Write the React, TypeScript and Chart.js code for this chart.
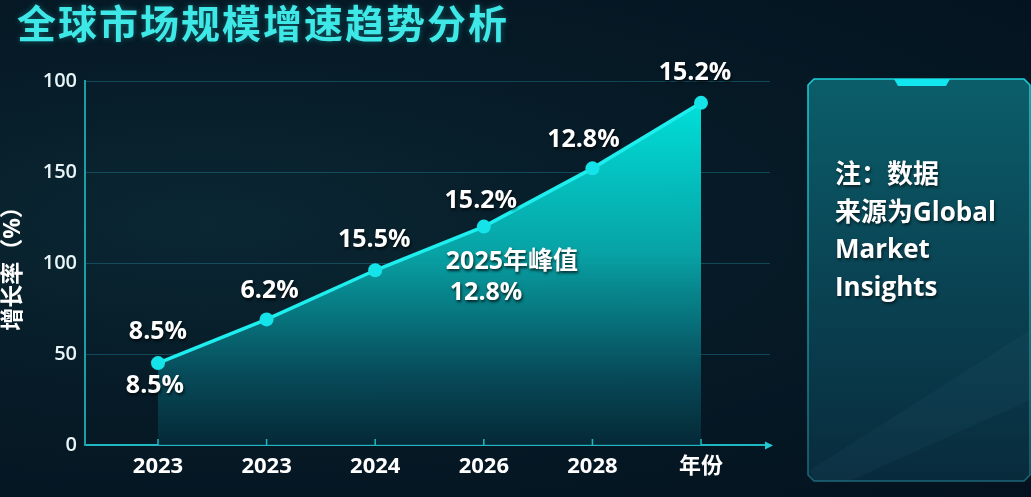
import React, { useEffect, useRef } from "react";
import { Chart, registerables } from "chart.js";

Chart.register(...registerables);

const categories = ["2023", "2023", "2024", "2026", "2028", "年份"];
const growthValues = [45, 69, 96, 120, 152, 188];
const pointLabels = ["8.5%", "6.2%", "15.5%", "15.2%", "12.8%", "15.2%"];
const belowLabels = ["8.5%", "", "", "", "", ""];
const peakNoteIndex = 3;
const peakNote = ["2025年峰值", "12.8%"];
const yTickValues = [0, 50, 100, 150, 200];
const yTickLabels = ["0", "50", "100", "150", "100"];
const titleText = "全球市场规模增速趋势分析";
const yAxisTitle = "增长率（%）";
const noteLines = ["注：数据", "来源为Global", "Market", "Insights"];

const W = 1031;
const H = 497;
const FONT = "'Open Sans', 'Noto Sans CJK SC', sans-serif";
const labelDx = [0, 3, -1, -3, -9, -6];
const labelDy = [-31, -29, -30, -26, -28, -30];

const decorPlugin = {
  id: "decor",
  afterDatasetsDraw(chart: any) {
    const ctx = chart.ctx;
    const area = chart.chartArea;
    const xs = chart.scales.x;
    ctx.save();
    ctx.strokeStyle = "#1fb8c2";
    ctx.lineWidth = 1.5;
    categories.forEach((_, i) => {
      const px = xs.getPixelForValue(i);
      ctx.beginPath();
      ctx.moveTo(px, area.bottom - 6);
      ctx.lineTo(px, area.bottom);
      ctx.stroke();
    });
    ctx.fillStyle = "#22c8d2";
    ctx.beginPath();
    ctx.moveTo(area.right + 3, area.bottom + 0.5);
    ctx.lineTo(area.right - 5, area.bottom - 3.5);
    ctx.lineTo(area.right - 5, area.bottom + 4.5);
    ctx.closePath();
    ctx.fill();

    const meta = chart.getDatasetMeta(0);
    ctx.shadowColor = "rgba(0,0,0,0.75)";
    ctx.shadowBlur = 3;
    ctx.shadowOffsetX = 1;
    ctx.shadowOffsetY = 2;
    ctx.fillStyle = "#ffffff";
    ctx.font = `bold 25px ${FONT}`;
    ctx.textAlign = "center";
    ctx.textBaseline = "middle";
    meta.data.forEach((pt: any, i: number) => {
      ctx.fillText(pointLabels[i], pt.x + labelDx[i], pt.y + labelDy[i]);
      if (belowLabels[i]) {
        ctx.fillText(belowLabels[i], pt.x - 3, pt.y + 23);
      }
    });
    const p = meta.data[peakNoteIndex];
    ctx.textAlign = "left";
    ctx.fillText(peakNote[0], p.x - 38, p.y + 35);
    ctx.fillText(peakNote[1], p.x - 34, p.y + 66);
    ctx.restore();
  },
};

function App() {
  const ref = useRef<HTMLCanvasElement | null>(null);
  useEffect(() => {
    const canvas = ref.current!;
    const chart = new Chart(canvas, {
      type: "line",
      data: {
        datasets: [
          {
            data: growthValues.map((v, i) => ({ x: i, y: v })),
            borderColor: "#1eeeee",
            borderWidth: 3.5,
            pointRadius: 7,
            pointHoverRadius: 7,
            pointBackgroundColor: "#14e4ea",
            pointBorderWidth: 0,
            tension: 0,
            fill: "origin",
            backgroundColor: (c: any) => {
              const a = c.chart.chartArea;
              if (!a) return "rgba(0,200,200,0.5)";
              const g = c.chart.ctx.createLinearGradient(0, a.top + 15, 0, a.bottom);
              g.addColorStop(0, "rgba(0,226,220,1)");
              g.addColorStop(0.45, "rgba(8,170,172,0.95)");
              g.addColorStop(0.8, "rgba(8,80,95,0.9)");
              g.addColorStop(1, "rgba(6,44,58,0.85)");
              return g;
            },
          },
        ],
      },
      options: {
        responsive: false,
        animation: false,
        layout: { padding: { left: 0, top: 81, right: W - 770, bottom: 0 } },
        plugins: { legend: { display: false }, tooltip: { enabled: false } },
        scales: {
          x: {
            type: "linear",
            min: -0.672,
            max: 5.635,
            afterBuildTicks: (s: any) => {
              s.ticks = categories.map((_, i) => ({ value: i }));
            },
            afterFit: (s: any) => {
              s.height = H - 445;
            },
            grid: { display: false, drawTicks: false },
            border: { display: true, color: "#1fb8c2", width: 2 },
            ticks: {
              autoSkip: false,
              maxRotation: 0,
              padding: 9,
              color: "#ffffff",
              font: { family: FONT, size: 22, weight: "bold" },
              callback: (v: any) => categories[Math.round(v)],
            },
          },
          y: {
            min: 0,
            max: 200,
            afterBuildTicks: (s: any) => {
              s.ticks = yTickValues.map((v) => ({ value: v }));
            },
            afterFit: (s: any) => {
              s.width = 85;
            },
            grid: { color: "rgba(28,110,128,0.55)", lineWidth: 1, drawTicks: false },
            border: { display: true, color: "#1a9ea8", width: 2 },
            title: {
              display: true,
              text: yAxisTitle,
              color: "#ffffff",
              padding: { top: 0, bottom: 0 },
              font: { family: FONT, size: 23, weight: "bold" },
            },
            ticks: {
              padding: 8,
              color: "#e8f4f6",
              font: { family: FONT, size: 20, weight: "600" },
              callback: (v: any) => yTickLabels[yTickValues.indexOf(v)] ?? "",
            },
          },
        },
      },
      plugins: [decorPlugin],
    } as any);
    return () => chart.destroy();
  }, []);

  return (
    <div
      style={{
        position: "fixed",
        left: 0,
        top: 0,
        width: W,
        height: H,
        overflow: "hidden",
        background:
          "radial-gradient(ellipse at 20% 45%, #0a2733 0%, #061b27 45%, #04121f 100%)",
        fontFamily: FONT,
      }}
    >
      <div
        style={{
          position: "absolute",
          left: 17,
          top: -7,
          fontSize: 39,
          fontWeight: 700,
          letterSpacing: 2,
          color: "#3ee8e6",
          fontFamily: "'Noto Sans CJK SC', sans-serif",
          textShadow: "0 0 6px rgba(40,220,220,0.35)",
          whiteSpace: "nowrap",
        }}
      >
        {titleText}
      </div>
      <svg
        width={W}
        height={H}
        style={{ position: "absolute", left: 0, top: 0 }}
      >
        <defs>
          <linearGradient id="pg" x1="0" y1="0" x2="0" y2="1">
            <stop offset="0" stopColor="#0b5e6a" />
            <stop offset="0.45" stopColor="#0a4656" />
            <stop offset="1" stopColor="#082b3c" />
          </linearGradient>
          <linearGradient id="pb" x1="0" y1="0" x2="0" y2="1">
            <stop offset="0" stopColor="#1fd0da" />
            <stop offset="1" stopColor="#1a6676" />
          </linearGradient>
        </defs>
        <path
          d="M814,79 L1024,79 L1030,85 L1030,475 L1024,481 L814,481 L808,475 L808,85 Z"
          fill="url(#pg)"
          stroke="url(#pb)"
          strokeWidth={1.5}
        />
        <path d="M810,470 L1030,330 L1030,400 L850,481 L814,481 Z" fill="rgba(60,130,150,0.08)" />
        <path d="M894,79 L950,79 L946,86 L898,86 Z" fill="#12e6ee" />
      </svg>
      <canvas
        ref={ref}
        width={W}
        height={H}
        style={{ position: "absolute", left: 0, top: 0, width: W, height: H }}
      />
      <div
        style={{
          position: "absolute",
          left: 835,
          top: 155,
          fontSize: 26,
          lineHeight: "37.5px",
          fontWeight: 700,
          color: "#ffffff",
          textShadow: "1px 2px 3px rgba(0,0,0,0.6)",
          fontFamily: "'Open Sans', 'Noto Sans CJK SC', sans-serif",
        }}
      >
        {noteLines.map((l, i) => (
          <div key={i}>{l}</div>
        ))}
      </div>
    </div>
  );
}

export default App;
